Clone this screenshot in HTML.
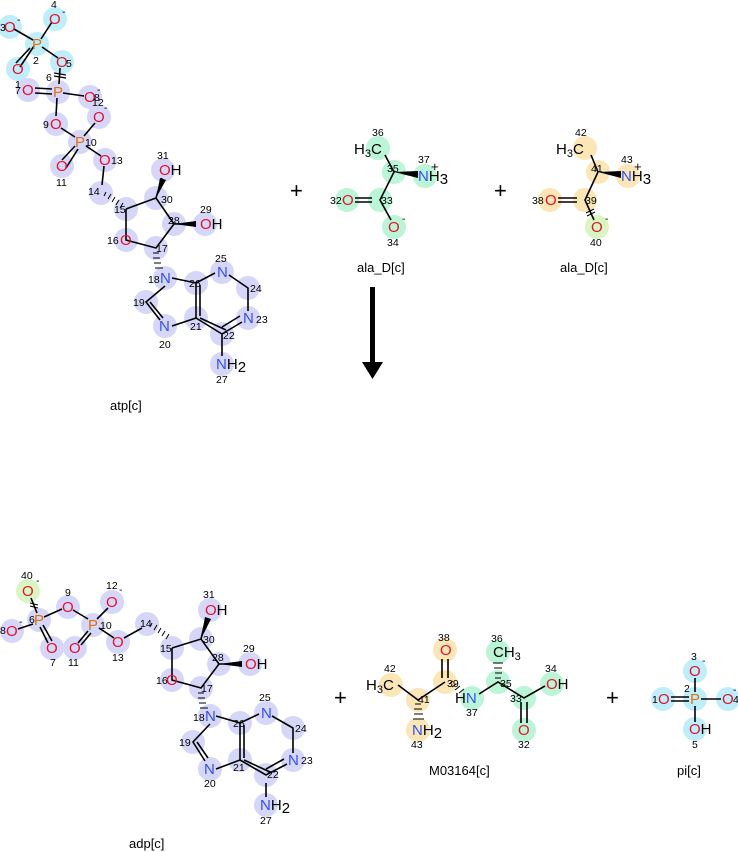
<!DOCTYPE html>
<html><head><meta charset="utf-8"><style>
html,body{margin:0;padding:0;background:#fff;}
svg{display:block;font-family:"Liberation Sans",sans-serif;}
.b{stroke:#000;stroke-width:1.6;fill:none}
.O{fill:#e8102a;font-size:15px}
.P{fill:#e07010;font-size:15px}
.N{fill:#3050f8;font-size:15px}
.K{fill:#000;font-size:15px}
.i{fill:#000;font-size:10.5px}
.l{fill:#000;font-size:13px}
.cy{fill:#bdeefa}.lv{fill:#d6d6f8}.gr{fill:#b9f5d6}.ye{fill:#fbe6b5}.li{fill:#d8f6c2}
</style></head><body>
<svg width="738" height="852" viewBox="0 0 738 852">
<!-- ATP highlights -->
<g class="cy"><circle cx="10" cy="27" r="12"/><circle cx="55" cy="19" r="12"/><circle cx="37" cy="44" r="12"/><circle cx="18" cy="69" r="12"/><circle cx="62" cy="62" r="12"/></g>
<g class="lv"><circle cx="28" cy="90" r="12"/><circle cx="58" cy="92" r="12"/><circle cx="90" cy="97" r="12"/><circle cx="99" cy="117" r="12"/><circle cx="56" cy="124" r="12"/><circle cx="80" cy="142" r="12"/><circle cx="62" cy="166" r="12"/><circle cx="105" cy="160" r="12"/><circle cx="101" cy="193" r="12"/><circle cx="126" cy="209" r="12"/><circle cx="156" cy="198" r="12"/><circle cx="174" cy="224" r="12"/><circle cx="156" cy="248" r="12"/><circle cx="126" cy="240" r="12"/><circle cx="163" cy="170" r="12"/><circle cx="205" cy="224" r="12"/><circle cx="165" cy="278" r="12"/><circle cx="146" cy="302" r="12"/><circle cx="165" cy="326" r="12"/><circle cx="196" cy="318" r="12"/><circle cx="196" cy="283" r="12"/><circle cx="222" cy="272" r="12"/><circle cx="248" cy="288" r="12"/><circle cx="248" cy="318" r="12"/><circle cx="222" cy="334" r="12"/><circle cx="222" cy="364" r="12"/></g>
<g class="b">
<path d="M14 29L33 40M52 22L41 39M42 47L58 58M30 48L16 63M34 46L20 67M60 68L59 84M35 88L52 89M35 93L52 94M63 93L84 96M57 98L56 116M61 128L75 137M84 136L95 123M75 146L62 160M78 149L66 168M86 146L101 156M104 166L102 185M126 209L156 198L174 224L156 248L126 240L126 209M174 224L196 224M156 198L162 178M222 334L222 356M165 286L146 302L160 320M150 302L163 318M172 326L196 318L196 283L172 278M200 316L200 285M196 283L215 273M229 275L248 288L248 311M242 322L222 334L196 318M240 316L222 327M226 330L200 318"/>
</g>
<path d="M156 198L160 178L166 180Z"/><path d="M174 224L196 221L196 227Z"/>
<g stroke="#000" stroke-width="1"><path d="M104 196L106 192M108 199L111 194M112 202L115 197M116 205L119 200M120 208L123 203M153 253L159 253M153 258L160 258M154 263L161 263M155 268L163 268"/></g>
<path d="M54 73L66 75M54 76L66 78" stroke="#000" stroke-width="1.3"/>
<text class="O" x="4" y="32">O</text><text class="O" x="49" y="24">O</text><text class="P" x="32" y="49">P</text><text class="O" x="12" y="74">O</text><text class="O" x="56" y="67">O</text>
<text class="O" x="22" y="95">O</text><text class="P" x="53" y="97">P</text><text class="O" x="84" y="102">O</text><text class="O" x="93" y="122">O</text><text class="O" x="50" y="129">O</text><text class="P" x="75" y="147">P</text><text class="O" x="56" y="171">O</text><text class="O" x="99" y="165">O</text><text class="O" x="120" y="245">O</text>
<text class="O" x="159" y="175">O<tspan class="K">H</tspan></text><text class="O" x="200" y="229">O<tspan class="K">H</tspan></text>
<text class="N" x="160" y="283">N</text><text class="N" x="159" y="331">N</text><text class="N" x="217" y="277">N</text><text class="N" x="243" y="323">N</text><text class="N" x="216" y="369">N<tspan class="K">H</tspan><tspan class="K" font-size="11" dy="3">2</tspan></text>
<g class="i"><text x="0" y="31">3</text><text x="51" y="8">4</text><text x="62" y="15">-</text><text x="17" y="23">-</text><text x="33" y="64">2</text><text x="15" y="88">1</text><text x="66" y="67">5</text><text x="46" y="81">6</text><text x="15" y="94">7</text><text x="94" y="101">8</text><text x="97" y="93">-</text><text x="92" y="106">12</text><text x="104" y="111">-</text><text x="43" y="128">9</text><text x="85" y="146">10</text><text x="56" y="186">11</text><text x="111" y="164">13</text><text x="88" y="195">14</text><text x="114" y="213">15</text><text x="161" y="203">30</text><text x="157" y="159">31</text><text x="168" y="224">28</text><text x="200" y="213">29</text><text x="107" y="244">16</text><text x="156" y="252">17</text><text x="148" y="283">18</text><text x="133" y="306">19</text><text x="159" y="348">20</text><text x="190" y="330">21</text><text x="189" y="287">26</text><text x="215" y="262">25</text><text x="250" y="292">24</text><text x="256" y="323">23</text><text x="223" y="339">22</text><text x="216" y="383">27</text></g>
<text class="l" x="110" y="410">atp[c]</text>

<text x="290" y="198" font-size="22">+</text>
<!-- ala_D 1 -->
<g class="gr"><circle cx="378" cy="148" r="12"/><circle cx="394" cy="172" r="12"/><circle cx="425" cy="176" r="12"/><circle cx="380" cy="200" r="12"/><circle cx="347" cy="200" r="12"/><circle cx="394" cy="227" r="12"/></g>
<path class="b" d="M385 155L394 172L380 200L391 220M372 198L355 198M372 202L355 202"/><path d="M394 172L418 171L418 178Z"/>
<text class="K" x="354" y="154">H<tspan font-size="11" dy="3">3</tspan><tspan dy="-3">C</tspan></text><text class="N" x="418" y="181">N<tspan class="K">H</tspan><tspan class="K" font-size="11" dy="3">3</tspan></text><text class="O" x="342" y="205">O</text><text class="O" x="388" y="232">O</text>
<g class="i"><text x="372" y="136">36</text><text x="387" y="172">35</text><text x="418" y="163">37</text><text x="431" y="171" font-size="13">+</text><text x="330" y="204">32</text><text x="381" y="204">33</text><text x="402" y="222">-</text><text x="387" y="246">34</text></g>
<text class="l" x="357" y="272">ala_D[c]</text>

<text x="494" y="198" font-size="22">+</text>
<g class="ye"><circle cx="585" cy="148" r="12"/><circle cx="598" cy="172" r="12"/><circle cx="628" cy="176" r="12"/><circle cx="585" cy="200" r="12"/><circle cx="550" cy="200" r="12"/></g><circle class="li" cx="597" cy="227" r="12"/>
<path class="b" d="M591 155L598 172L585 200L594 220M577 198L558 198M577 202L558 202"/><path d="M598 172L621 171L621 178Z"/><path d="M586 213L594 209M587 216L595 212" stroke="#000"/>
<text class="K" x="556" y="154">H<tspan font-size="11" dy="3">3</tspan><tspan dy="-3">C</tspan></text><text class="N" x="621" y="181">N<tspan class="K">H</tspan><tspan class="K" font-size="11" dy="3">3</tspan></text><text class="O" x="545" y="205">O</text><text class="O" x="591" y="232">O</text>
<g class="i"><text x="575" y="136">42</text><text x="591" y="172">41</text><text x="621" y="163">43</text><text x="634" y="171" font-size="13">+</text><text x="532" y="204">38</text><text x="585" y="204">39</text><text x="605" y="222">-</text><text x="590" y="246">40</text></g>
<text class="l" x="560" y="272">ala_D[c]</text>

<!-- arrow -->
<rect x="370" y="287" width="5" height="76"/><path d="M362 362L383 362L372.5 379Z"/>

<!-- ADP -->
<circle class="li" cx="28" cy="591" r="12"/>
<g class="lv"><circle cx="68" cy="607" r="12"/><circle cx="112" cy="602" r="12"/><circle cx="39" cy="620" r="12"/><circle cx="12" cy="631" r="12"/><circle cx="52" cy="648" r="12"/><circle cx="93" cy="625" r="12"/><circle cx="75" cy="648" r="12"/><circle cx="118" cy="642" r="12"/><circle cx="147" cy="624" r="12"/><circle cx="172" cy="648" r="12"/><circle cx="201" cy="639" r="12"/><circle cx="219" cy="664" r="12"/><circle cx="201" cy="688" r="12"/><circle cx="172" cy="680" r="12"/><circle cx="210" cy="610" r="12"/><circle cx="250" cy="664" r="12"/><circle cx="210" cy="716" r="12"/><circle cx="193" cy="742" r="12"/><circle cx="210" cy="769" r="12"/><circle cx="240" cy="760" r="12"/><circle cx="240" cy="723" r="12"/><circle cx="266" cy="713" r="12"/><circle cx="293" cy="728" r="12"/><circle cx="293" cy="760" r="12"/><circle cx="266" cy="775" r="12"/><circle cx="266" cy="805" r="12"/></g>
<g class="b"><path d="M31 598L37 613M44 617L62 609M73 610L88 619M97 619L108 608M99 628L114 638M124 638L142 628M43 625L52 641M40 627L48 643M88 631L78 643M91 633L81 645M33 624L18 629M172 648L201 639L219 664L201 688L172 680L172 648M219 664L240 664M201 639L206 618M266 783L266 797M210 724L193 742L205 761M197 742L208 758M216 769L240 760L240 723L216 716M244 758L244 725M240 723L259 714M272 716L293 728L293 753M287 764L266 775L240 760M284 759L266 769M270 772L244 760"/></g>
<path d="M201 639L205 617L211 619Z"/><path d="M219 664L242 661L242 667Z"/>
<g stroke="#000" stroke-width="1"><path d="M150 627L152 623M154 630L157 625M158 633L161 628M162 636L165 631M166 639L169 634M198 693L204 693M198 698L205 698M199 703L206 703M200 708L208 708M30 603L38 605M30 606L38 608"/></g>
<text class="O" x="22" y="596">O</text><text class="O" x="62" y="612">O</text><text class="O" x="106" y="607">O</text><text class="P" x="34" y="625">P</text><text class="O" x="6" y="636">O</text><text class="O" x="46" y="653">O</text><text class="P" x="88" y="630">P</text><text class="O" x="69" y="653">O</text><text class="O" x="112" y="647">O</text><text class="O" x="166" y="685">O</text>
<text class="O" x="205" y="615">O<tspan class="K">H</tspan></text><text class="O" x="245" y="669">O<tspan class="K">H</tspan></text>
<text class="N" x="205" y="721">N</text><text class="N" x="204" y="774">N</text><text class="N" x="261" y="718">N</text><text class="N" x="288" y="765">N</text><text class="N" x="260" y="810">N<tspan class="K">H</tspan><tspan class="K" font-size="11" dy="3">2</tspan></text>
<g class="i"><text x="21" y="579">40</text><text x="36" y="584">-</text><text x="65" y="596">9</text><text x="106" y="589">12</text><text x="119" y="593">-</text><text x="29" y="623">6</text><text x="100" y="629">10</text><text x="0" y="634">8</text><text x="19" y="625">-</text><text x="50" y="666">7</text><text x="68" y="666">11</text><text x="112" y="661">13</text><text x="140" y="627">14</text><text x="160" y="652">15</text><text x="203" y="643">30</text><text x="203" y="598">31</text><text x="212" y="661">28</text><text x="243" y="652">29</text><text x="156" y="684">16</text><text x="201" y="692">17</text><text x="193" y="721">18</text><text x="179" y="746">19</text><text x="204" y="787">20</text><text x="233" y="771">21</text><text x="233" y="727">26</text><text x="259" y="701">25</text><text x="295" y="732">24</text><text x="301" y="764">23</text><text x="267" y="778">22</text><text x="260" y="824">27</text></g>
<text class="l" x="129" y="848">adp[c]</text>

<text x="334" y="705" font-size="22">+</text>
<!-- M03164 -->
<g class="ye"><circle cx="391" cy="685" r="12"/><circle cx="418" cy="700" r="12"/><circle cx="418" cy="730" r="12"/><circle cx="445" cy="682" r="12"/><circle cx="445" cy="650" r="12"/></g>
<g class="gr"><circle cx="472" cy="698" r="12"/><circle cx="498" cy="682" r="12"/><circle cx="498" cy="652" r="12"/><circle cx="524" cy="698" r="12"/><circle cx="552" cy="684" r="12"/><circle cx="524" cy="730" r="12"/></g>
<g class="b"><path d="M398 685L418 700L445 682M442 678L442 659M448 678L448 659M479 694L498 682L524 698L545 686M521 702L521 723M527 702L527 723"/></g>
<g stroke="#000" stroke-width="1"><path d="M415 704L421 704M414 709L422 709M414 714L423 714M413 719L424 719M495 678L501 678M495 673L502 673M494 668L502 668M493 663L503 663M449 684L453 681M452 687L456 684M455 690L460 686M459 693L464 689"/></g>
<text class="K" x="366" y="690">H<tspan font-size="11" dy="3">3</tspan><tspan dy="-3">C</tspan></text><text class="N" x="412" y="735">N<tspan class="K">H</tspan><tspan class="K" font-size="11" dy="3">2</tspan></text><text class="O" x="440" y="655">O</text><text class="K" x="455" y="703">H<tspan class="N">N</tspan></text><text class="K" x="493" y="657">CH<tspan font-size="11" dy="3">3</tspan></text><text class="O" x="546" y="689">O<tspan class="K">H</tspan></text><text class="O" x="518" y="735">O</text>
<g class="i"><text x="384" y="672">42</text><text x="418" y="703">41</text><text x="411" y="748">43</text><text x="438" y="641">38</text><text x="447" y="687">39</text><text x="466" y="716">37</text><text x="491" y="642">36</text><text x="500" y="687">35</text><text x="510" y="702">33</text><text x="545" y="672">34</text><text x="518" y="748">32</text></g>
<text class="l" x="429" y="775">M03164[c]</text>

<text x="606" y="705" font-size="22">+</text>
<g class="cy"><circle cx="695" cy="671" r="12"/><circle cx="695" cy="699" r="12"/><circle cx="663" cy="699" r="12"/><circle cx="728" cy="699" r="12"/><circle cx="695" cy="729" r="12"/></g>
<g class="b"><path d="M695 678L695 692M671 697L689 697M671 701L689 701M701 699L721 699M695 706L695 722"/></g>
<text class="O" x="689" y="676">O</text><text class="P" x="690" y="704">P</text><text class="O" x="658" y="704">O</text><text class="O" x="722" y="704">O</text><text class="O" x="689" y="734">O<tspan class="K">H</tspan></text>
<g class="i"><text x="691" y="660">3</text><text x="702" y="664">-</text><text x="684" y="692">2</text><text x="652" y="703">1</text><text x="733" y="703">4</text><text x="733" y="693">-</text><text x="692" y="748">5</text></g>
<text class="l" x="677" y="775">pi[c]</text>
</svg>
</body></html>
